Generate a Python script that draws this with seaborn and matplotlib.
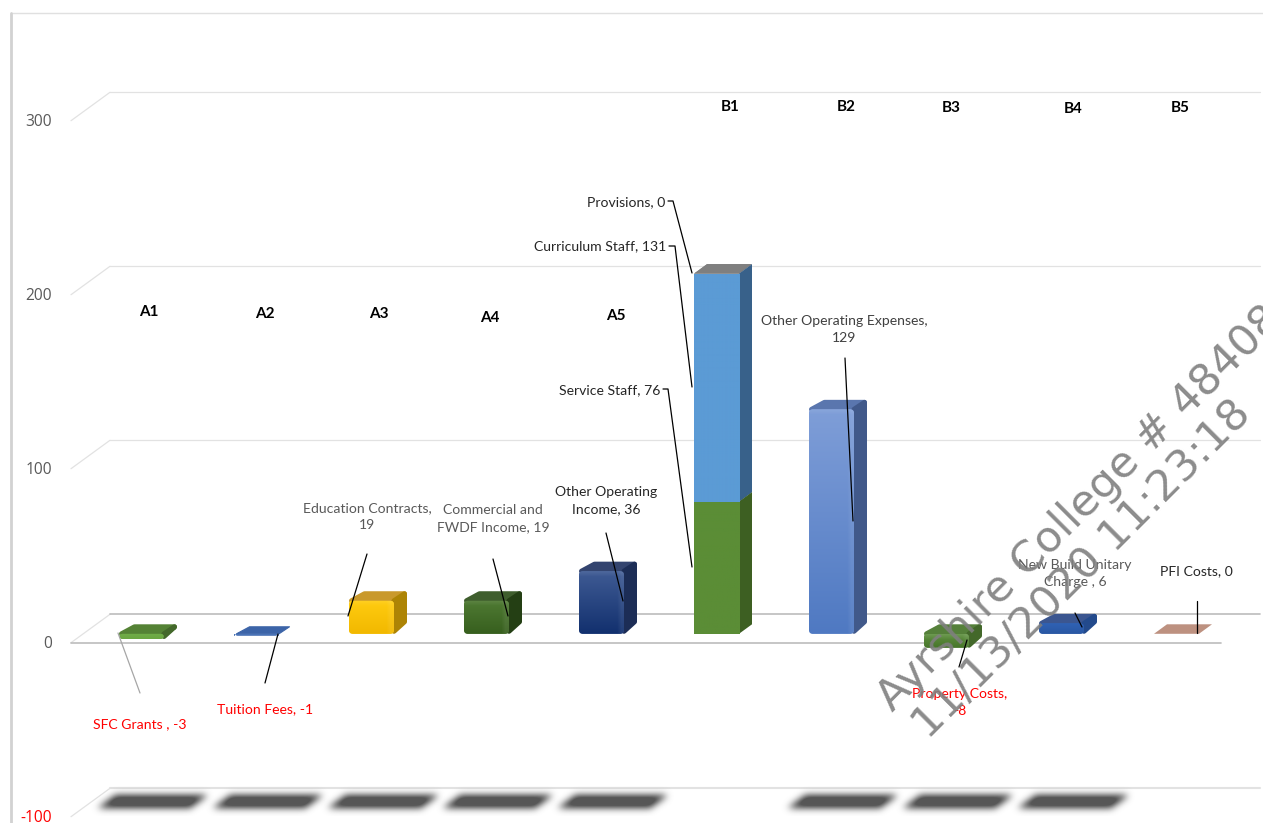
import numpy as np
import pandas as pd
import seaborn as sns
import matplotlib
matplotlib.use("Agg")
import matplotlib.pyplot as plt
from matplotlib.patches import FancyBboxPatch, Polygon
from matplotlib.transforms import Affine2D

# ---- chart data ----
slots = ["A1", "A2", "A3", "A4", "A5", "B1", "B2", "B3", "B4", "B5"]
row_slots = ["A1", "A2", "A3", "A4", "A5", "B1", "B1", "B1", "B2", "B3", "B4", "B5"]
row_names = ["SFC Grants ", "Tuition Fees", "Education Contracts",
             "Commercial and\nFWDF Income", "Other Operating\nIncome",
             "Service Staff", "Curriculum Staff", "Provisions",
             "Other Operating Expenses", "Property Costs",
             "New Build Unitary\nCharge ", "PFI Costs"]
row_values = [-3, -1, 19, 19, 36, 76, 131, 0, 129, -8, 6, 0]
axis_ticks = [300, 200, 100, 0, -100]
shadow_slots = ["A1", "A2", "A3", "A4", "A5", "B2", "B3", "B4"]
watermark = ["Ayrshire College # 48408", "11/13/2020 11:23:18"]

# ---- canvas geometry (pixels) ----
W, H = 1263, 823
SLOT_PX = 115.0
UNIT_PX = 1.74
X0_PX, Y0_PX = 141.5, 633.8
BAR_W = 45 / SLOT_PX
DX, DY = 13 / SLOT_PX, 9.5 / UNIT_PX
INSET_X, INSET_Y = 2.5 / SLOT_PX, 2.5 / UNIT_PX

# face colours: front top, front bottom, top face, side face, bevelled
STYLE = {
    "SFC Grants ": ("#70ad47", "#6aa642", "#548235", "#43682b", True),
    "Tuition Fees": ("#4a74b8", "#3f68ae", "#3c64a8", "#2f5088", True),
    "Education Contracts": ("#ffcc10", "#f2b800", "#c9992c", "#ad8405", True),
    "Commercial and\nFWDF Income": ("#4f7a33", "#375f1e", "#3f5e2d", "#243f14", True),
    "Other Operating\nIncome": ("#3f5b94", "#12306e", "#33446f", "#1c2d56", True),
    "Service Staff": ("#5b8d36", "#5b8d36", "#3d5f22", "#3d5f22", False),
    "Curriculum Staff": ("#5b9bd5", "#5b9bd5", "#7f7f7f", "#38618a", False),
    "Provisions": ("#7f7f7f", "#7f7f7f", "#7f7f7f", "#7f7f7f", False),
    "Other Operating Expenses": ("#7f9ed8", "#4f79c2", "#5a76ae", "#41598a", True),
    "Property Costs": ("#5f9040", "#47762a", "#55803a", "#43682a", True),
    "New Build Unitary\nCharge ": ("#2f62b4", "#2a57a3", "#3b5690", "#234a8c", True),
    "PFI Costs": ("#bd9180", "#bd9180", "#bd9180", "#bd9180", False),
}

sns.set_theme(style="white")
plt.rcParams["font.family"] = ["Lato", "DejaVu Sans"]

fig = plt.figure(figsize=(W / 100, H / 100), dpi=100)
ax = fig.add_axes([0, 0, 1, 1])
ax.set_axis_off()
px = Affine2D().scale(1 / W, -1 / H).translate(0, 1) + fig.transFigure


def set_limits():
    ax.set_xlim(-X0_PX / SLOT_PX, (W - X0_PX) / SLOT_PX)
    ax.set_ylim((Y0_PX - H) / UNIT_PX, Y0_PX / UNIT_PX)


def hex_rgb(c):
    return np.array(matplotlib.colors.to_rgb(c))


# ---- chart frame ----
ax.plot([10.5, 1263], [13.5, 13.5], color="#e0e0e0", lw=1.0, transform=px, zorder=1)
ax.plot([11, 11], [13, 823], color="#d2d2d2", lw=2.0, transform=px, zorder=1)

# ---- box walls: gridlines on the back plane, floor edge on the front plane ----
FRONT_X, FRONT_Y = -70.5 / SLOT_PX, -8.9 / UNIT_PX
BACK_DX, BACK_DY = 39 / SLOT_PX, 28.4 / UNIT_PX
for t in axis_ticks:
    xf, yf = FRONT_X, t + FRONT_Y
    xb, yb = xf + BACK_DX, yf + BACK_DY
    wall = "#bcbcbc" if t == 0 else "#e2e2e2"
    ax.plot([xf, xb], [yf, yb], color="#e2e2e2", lw=0.9, zorder=1)
    ax.plot([xb, (W - 3 - X0_PX) / SLOT_PX], [yb, yb], color=wall,
            lw=1.2 if t == 0 else (1.5 if t == -100 else 0.9), zorder=1)
    if t == 0:
        ax.plot([xf, xf + 10.0], [yf, yf], color=wall, lw=1.2, zorder=1)
    ax.text(52, Y0_PX - (t + FRONT_Y) * UNIT_PX + 1, f"{t}", transform=px,
            ha="right", va="center", fontsize=11.2, family="Open Sans",
            color="#ff0000" if t < 0 else "#595959", zorder=5)


# ---- blurred floor shadows ----
def shadow_image(sigma=3.6):
    rows, cols = 36, 140  # one cell per pixel
    yy, xx = np.mgrid[0:rows, 0:cols].astype(float)
    left = 32 - (yy - 17) * 1.4
    mask = ((yy >= 15) & (yy <= 27) & (xx >= left) & (xx <= left + 92)).astype(float)
    half = int(3 * sigma)
    kernel = np.exp(-0.5 * (np.arange(-half, half + 1) / sigma) ** 2)
    kernel /= kernel.sum()
    soft = np.apply_along_axis(lambda c: np.convolve(c, kernel, mode="same"), 0, mask)
    soft = np.apply_along_axis(lambda c: np.convolve(c, kernel, mode="same"), 1, soft)
    img = np.zeros((rows, cols, 4))
    img[..., :3] = 0.34
    img[..., 3] = np.clip(soft * 1.3, 0, 1)
    return img


blob = shadow_image()
for s in shadow_slots:
    i = slots.index(s)
    ax.imshow(blob, extent=(i - 62 / SLOT_PX, i + 78 / SLOT_PX, -84.0, -84.0 - 36 / UNIT_PX),
              origin="lower", aspect="auto", zorder=1.5, interpolation="bilinear")

# ---- bars ----
df = pd.DataFrame({"slot": row_slots, "name": row_names, "value": row_values})
df["base"] = df.groupby("slot")["value"].cumsum() - df["value"]

for base, part in df.groupby("base", sort=True):
    sns.barplot(data=part, x="slot", y="value", order=slots, hue="name",
                hue_order=list(part["name"]), dodge=False, legend=False,
                palette={n: STYLE[n][0] for n in part["name"]}, saturation=1,
                width=BAR_W, bottom=base, errorbar=None, linewidth=0, ax=ax, zorder=3)

# add the extruded faces from each drawn bar
for patch in list(ax.patches):
    bb = patch.get_bbox()
    x0, x1 = sorted((bb.x0, bb.x1))
    y_a, y_b = patch.get_y(), patch.get_y() + patch.get_height()
    slot_i = int(round((x0 + x1) / 2))
    match = [r for r in df.itertuples() if slots.index(r.slot) == slot_i
             and abs(r.base - patch.get_y()) < 1e-6 and abs(r.value - patch.get_height()) < 1e-6]
    if not match:
        patch.set_visible(False)
        continue
    name = match[0].name
    top_c, bot_c, roof_c, side_c, bevel = STYLE[name]
    lo, hi = min(y_a, y_b), max(y_a, y_b)
    roof_y = max(y_a, y_b)
    order = 3 + 0.01 * match[0].Index
    ix, iy = (INSET_X, INSET_Y) if bevel else (0, 0)
    lw = 3.6 if bevel else 0
    thin = (hi - lo) * UNIT_PX <= 3
    roof = Polygon([(x0 + ix, roof_y), (x1, roof_y), (x1 + DX - ix, roof_y + DY - iy),
                    (x0 + DX + ix, roof_y + DY - iy)],
                   closed=True, facecolor=roof_c, edgecolor=roof_c if bevel else "none",
                   linewidth=0.8 if (thin and bevel) else lw,
                   joinstyle="round", zorder=order - 0.5)
    ax.add_patch(roof)
    h_px = max(2, int(round((hi - lo) * UNIT_PX)))
    if hi > lo:
        if not thin:
            ax.add_patch(Polygon([(x1, lo + iy), (x1 + DX - ix, lo + DY + iy),
                                  (x1 + DX - ix, hi + DY - iy), (x1, hi)],
                                 closed=True, facecolor=side_c, edgecolor=side_c if bevel else "none",
                                 linewidth=lw, joinstyle="round", zorder=order - 0.4))
        w_px = 45
        fade = np.linspace(0, 1, h_px)[:, None, None]
        grad = (1 - fade) * hex_rgb(top_c) + fade * hex_rgb(bot_c)
        grad = np.repeat(grad, w_px, axis=1)
        if bevel and h_px > 12:
            # soft highlight along the top and right rims of the bevel
            xr = np.linspace(0, w_px - 1, w_px)
            rim = np.clip((xr - (w_px - 8)) / 4, 0, 1)[None, :]
            rim_t = np.clip(1 - np.arange(h_px) / 5, 0, 1)[:, None]
            glow = np.clip(0.07 * rim + 0.08 * rim_t, 0, 1)[..., None]
            grad = grad + (1 - grad) * glow
        im = ax.imshow(grad, extent=(x0, x1, lo, hi), origin="upper", aspect="auto",
                       zorder=order, interpolation="bilinear")
        if bevel:
            r = 4 / SLOT_PX
            clip = FancyBboxPatch((x0, lo), x1 - x0, hi - lo,
                                  boxstyle=f"round,pad=0,rounding_size={r}",
                                  mutation_aspect=SLOT_PX / UNIT_PX,
                                  transform=ax.transData, facecolor="none", edgecolor="none")
            im.set_clip_path(clip)
            patch.set_clip_path(clip)
    patch.set_zorder(order - 0.1)

set_limits()

# ---- callout labels ----
RED, GREY, DARK = "#ff0000", "#595959", "#262626"
LEADER_GREY = "#a6a6a6"
CALLOUTS = [
    (139.5, 724, "center", RED, [(118, 633), (140, 693)], LEADER_GREY),
    (265, 709, "center", RED, [(278, 634), (265, 683)], "black"),
    (367, 517, "center", GREY, [(367, 554), (348, 616)], "black"),
    (493, 518.5, "center", GREY, [(493, 559), (508, 616)], "black"),
    (606, 500.5, "center", DARK, [(606, 533), (623, 601)], "black"),
    (660, 390, "right", DARK, [(663, 389), (668, 389), (692, 567)], "black"),
    (666, 246, "right", DARK, [(669, 246), (675, 246), (692, 387)], "black"),
    (665, 202, "right", DARK, [(668, 201), (673, 201), (692, 273)], "black"),
    (844, 329.5, "center", "#404040", [(845, 358), (853, 521)], "black"),
    (960, 703, "center", RED, [(967, 640), (959, 667)], "black"),
    (1075, 573.5, "center", GREY, [(1075, 613), (1082, 627)], "black"),
    (1196, 571, "center", DARK, [(1197, 601), (1197, 633)], "black"),
]
WRAP_VALUE = {"Education Contracts", "Other Operating Expenses", "Property Costs"}
for r, (tx, ty, ha, colour, line, lc) in zip(df.itertuples(), CALLOUTS):
    sep = "\n" if r.name in WRAP_VALUE else " "
    ax.text(tx, ty, f"{r.name},{sep}{r.value}", transform=px, ha=ha, va="center",
            multialignment="center", fontsize=10.05, color=colour, zorder=6, linespacing=1.5)
    lx, ly = zip(*line)
    ax.plot(lx, ly, color=lc, lw=0.9, transform=px, zorder=6)

# ---- slot captions ----
CAPTION_AT = [(149, 311), (265, 313), (379, 313), (490, 317), (616, 315),
              (730, 106), (846, 106), (951, 107), (1073, 108), (1180, 107)]
for s, (cx, cy) in zip(slots, CAPTION_AT):
    ax.text(cx, cy + 1, s, transform=px, ha="center", va="center", fontsize=11,
            fontweight="bold", color="black", zorder=6)

# ---- stamp across the lower right ----
for line, (sx, sy) in zip(watermark, [(893, 713), (928, 740)]):
    ax.text(sx, sy, line, transform=px, rotation=45, rotation_mode="anchor",
            ha="left", va="baseline", fontsize=31.2, family="DejaVu Sans",
            color="#7f7f7f", alpha=0.9, zorder=8, clip_on=True)

set_limits()
fig.savefig("out.png", dpi=100, facecolor="white")
